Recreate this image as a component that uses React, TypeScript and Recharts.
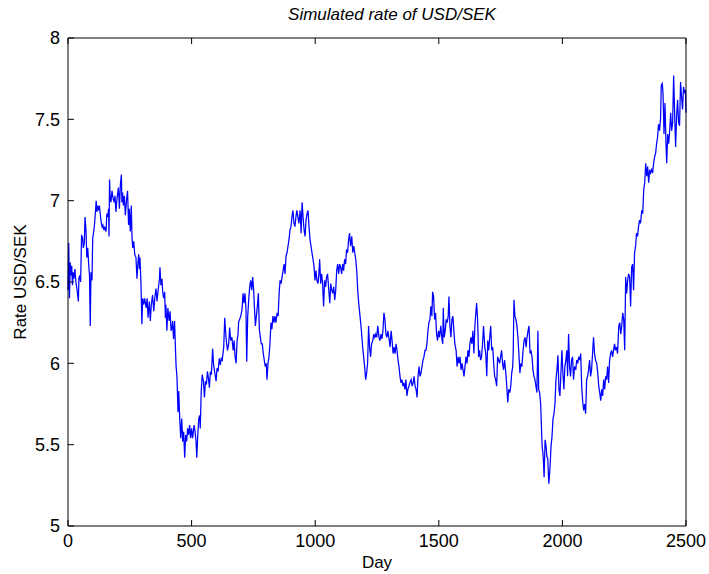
import React from 'react';
import { LineChart, Line, XAxis, YAxis, Label } from 'recharts';

// Sampled trading days (x) and the simulated USD/SEK rate on each day (y)
const days: number[] = [
  0, 3, 6, 9, 12, 15, 18, 21, 24, 28,
  32, 36, 39, 42, 44, 47, 51, 55, 59, 62,
  66, 69, 73, 76, 80, 84, 87, 90, 93, 97,
  100, 104, 107, 111, 114, 117, 120, 124, 127, 131,
  134, 138, 141, 145, 148, 151, 154, 157, 161, 164,
  166, 168, 171, 174, 178, 183, 187, 190, 194, 198,
  204, 208, 212, 216, 218, 221, 224, 228, 232, 237,
  241, 245, 248, 252, 256, 259, 262, 266, 270, 275,
  279, 282, 286, 289, 291, 295, 299, 302, 306, 310,
  316, 320, 324, 329, 333, 337, 342, 347, 351, 356,
  360, 364, 370, 372, 376, 380, 383, 387, 391, 394,
  396, 400, 404, 409, 413, 417, 421, 423, 427, 431,
  437, 441, 445, 448, 452, 456, 460, 464, 468, 472,
  476, 480, 484, 488, 492, 496, 500, 504, 510, 514,
  518, 521, 525, 529, 533, 535, 539, 543, 548, 552,
  556, 560, 564, 568, 572, 576, 580, 585, 589, 593,
  599, 603, 607, 612, 616, 620, 624, 630, 634, 639,
  645, 650, 654, 658, 663, 668, 672, 676, 680, 684,
  688, 690, 694, 699, 704, 708, 712, 716, 720, 723,
  727, 731, 735, 739, 743, 747, 751, 754, 758, 762,
  766, 770, 774, 778, 782, 786, 790, 794, 798, 802,
  805, 809, 813, 817, 821, 825, 829, 833, 837, 841,
  846, 850, 854, 858, 862, 866, 870, 874, 878, 882,
  886, 890, 894, 898, 902, 906, 910, 914, 918, 922,
  926, 930, 934, 939, 943, 947, 951, 955, 959, 963,
  967, 971, 975, 979, 983, 987, 991, 995, 999, 1003,
  1007, 1011, 1015, 1018, 1022, 1026, 1030, 1034, 1038, 1042,
  1046, 1050, 1055, 1059, 1063, 1067, 1071, 1075, 1079, 1083,
  1087, 1091, 1095, 1099, 1103, 1107, 1111, 1115, 1119, 1123,
  1127, 1131, 1135, 1139, 1143, 1148, 1152, 1156, 1160, 1164,
  1168, 1172, 1176, 1180, 1184, 1188, 1192, 1196, 1200, 1204,
  1208, 1212, 1216, 1220, 1224, 1228, 1233, 1237, 1241, 1245,
  1249, 1253, 1258, 1262, 1266, 1270, 1274, 1278, 1282, 1286,
  1290, 1294, 1298, 1303, 1307, 1311, 1315, 1319, 1323, 1327,
  1331, 1335, 1339, 1343, 1347, 1351, 1355, 1359, 1363, 1367,
  1371, 1375, 1379, 1383, 1388, 1392, 1396, 1400, 1404, 1408,
  1412, 1416, 1420, 1424, 1428, 1432, 1436, 1440, 1444, 1448,
  1452, 1456, 1460, 1464, 1468, 1472, 1475, 1479, 1483, 1487,
  1491, 1495, 1499, 1503, 1508, 1512, 1516, 1518, 1522, 1526,
  1530, 1534, 1538, 1541, 1545, 1549, 1553, 1557, 1561, 1565,
  1570, 1574, 1578, 1582, 1586, 1590, 1594, 1598, 1602, 1606,
  1610, 1614, 1618, 1622, 1626, 1630, 1634, 1638, 1642, 1646,
  1650, 1653, 1657, 1661, 1665, 1669, 1673, 1677, 1681, 1686,
  1690, 1694, 1698, 1702, 1706, 1710, 1714, 1718, 1722, 1726,
  1730, 1734, 1738, 1742, 1746, 1750, 1754, 1758, 1762, 1766,
  1770, 1774, 1779, 1783, 1787, 1791, 1795, 1799, 1801, 1804,
  1808, 1812, 1816, 1820, 1824, 1828, 1832, 1836, 1841, 1845,
  1849, 1853, 1857, 1861, 1865, 1869, 1873, 1877, 1881, 1885,
  1889, 1893, 1897, 1901, 1904, 1908, 1912, 1915, 1918, 1921,
  1923, 1926, 1930, 1934, 1937, 1941, 1945, 1950, 1954, 1958,
  1962, 1966, 1970, 1974, 1978, 1982, 1986, 1990, 1994, 1998,
  2002, 2006, 2010, 2014, 2018, 2021, 2025, 2029, 2033, 2037,
  2041, 2045, 2049, 2054, 2058, 2062, 2066, 2070, 2074, 2078,
  2082, 2086, 2090, 2094, 2098, 2102, 2106, 2110, 2114, 2118,
  2122, 2126, 2130, 2134, 2139, 2143, 2147, 2151, 2155, 2159,
  2163, 2167, 2171, 2175, 2179, 2183, 2187, 2191, 2195, 2199,
  2203, 2207, 2211, 2215, 2219, 2223, 2228, 2232, 2236, 2240,
  2244, 2248, 2252, 2256, 2260, 2264, 2268, 2272, 2276, 2280,
  2284, 2288, 2292, 2296, 2300, 2304, 2308, 2312, 2316, 2321,
  2325, 2329, 2333, 2337, 2341, 2345, 2349, 2353, 2357, 2361,
  2365, 2369, 2373, 2377, 2381, 2385, 2389, 2393, 2397, 2400,
  2404, 2407, 2411, 2415, 2419, 2422, 2426, 2430, 2434, 2438,
  2442, 2446, 2450, 2454, 2458, 2462, 2466, 2470, 2474, 2478,
  2482, 2486, 2490, 2494, 2498, 2500,
];

const rates: number[] = [
  6.45, 6.74, 6.40, 6.62, 6.54, 6.60, 6.48, 6.56, 6.52, 6.58,
  6.50, 6.46, 6.42, 6.38, 6.52, 6.54, 6.50, 6.79, 6.77, 6.71,
  6.74, 6.90, 6.81, 6.65, 6.71, 6.60, 6.54, 6.23, 6.56, 6.51,
  6.77, 6.81, 6.85, 6.93, 7.00, 6.93, 6.97, 6.94, 6.97, 6.91,
  6.87, 6.84, 6.85, 6.82, 6.84, 6.82, 6.81, 6.92, 6.90, 6.95,
  6.78, 7.13, 7.01, 6.99, 7.06, 7.01, 6.99, 7.03, 6.93, 7.01,
  7.08, 6.95, 7.10, 7.16, 6.99, 7.05, 6.97, 7.03, 6.91, 7.01,
  7.06, 6.85, 6.95, 6.81, 6.97, 6.77, 6.71, 6.75, 6.67, 6.65,
  6.52, 6.60, 6.67, 6.58, 6.65, 6.50, 6.24, 6.40, 6.36, 6.40,
  6.34, 6.40, 6.28, 6.38, 6.26, 6.36, 6.42, 6.32, 6.40, 6.46,
  6.38, 6.44, 6.52, 6.59, 6.48, 6.52, 6.44, 6.40, 6.44, 6.28,
  6.36, 6.20, 6.34, 6.26, 6.32, 6.20, 6.22, 6.26, 6.15, 6.26,
  5.99, 5.91, 5.70, 5.83, 5.66, 5.54, 5.66, 5.52, 5.58, 5.42,
  5.56, 5.52, 5.60, 5.56, 5.62, 5.54, 5.60, 5.54, 5.62, 5.58,
  5.52, 5.42, 5.56, 5.66, 5.68, 5.60, 5.83, 5.93, 5.89, 5.79,
  5.89, 5.87, 5.95, 5.91, 5.85, 5.95, 5.93, 6.09, 5.99, 5.95,
  5.89, 5.97, 5.95, 6.03, 5.99, 6.03, 6.02, 6.10, 6.28, 6.16,
  6.08, 6.12, 6.22, 6.14, 6.16, 6.08, 6.14, 6.04, 6.00, 6.14,
  6.18, 6.25, 6.27, 6.29, 6.33, 6.43, 6.37, 6.43, 6.33, 6.01,
  6.29, 6.39, 6.47, 6.51, 6.45, 6.53, 6.45, 6.35, 6.23, 6.29,
  6.35, 6.43, 6.21, 6.16, 6.12, 6.12, 6.06, 6.02, 5.98, 6.00,
  5.90, 6.00, 6.04, 6.12, 6.25, 6.21, 6.29, 6.25, 6.29, 6.25,
  6.31, 6.29, 6.43, 6.51, 6.49, 6.53, 6.57, 6.61, 6.55, 6.66,
  6.68, 6.72, 6.76, 6.82, 6.84, 6.90, 6.94, 6.86, 6.84, 6.90,
  6.94, 6.90, 6.86, 6.94, 6.80, 6.99, 6.90, 6.82, 6.78, 6.88,
  6.92, 6.94, 6.84, 6.76, 6.72, 6.68, 6.64, 6.60, 6.51, 6.57,
  6.51, 6.49, 6.55, 6.64, 6.49, 6.55, 6.49, 6.35, 6.51, 6.47,
  6.53, 6.55, 6.45, 6.37, 6.49, 6.45, 6.43, 6.47, 6.39, 6.45,
  6.57, 6.61, 6.55, 6.61, 6.59, 6.55, 6.61, 6.57, 6.64, 6.61,
  6.70, 6.68, 6.76, 6.80, 6.72, 6.78, 6.68, 6.72, 6.68, 6.64,
  6.57, 6.45, 6.37, 6.31, 6.25, 6.18, 6.10, 6.04, 5.98, 5.90,
  5.94, 6.00, 6.23, 6.10, 6.04, 6.12, 6.14, 6.18, 6.16, 6.18,
  6.16, 6.23, 6.16, 6.14, 6.18, 6.15, 6.20, 6.31, 6.27, 6.18,
  6.16, 6.20, 6.16, 6.10, 6.20, 6.14, 6.06, 6.10, 6.06, 6.12,
  6.08, 6.02, 5.98, 5.92, 5.88, 5.90, 5.86, 5.88, 5.84, 5.90,
  5.80, 5.84, 5.86, 5.88, 5.90, 5.86, 5.88, 5.92, 5.86, 5.84,
  5.79, 5.92, 5.98, 5.92, 5.94, 5.98, 6.02, 6.04, 6.08, 6.08,
  6.12, 6.20, 6.25, 6.27, 6.35, 6.29, 6.44, 6.41, 6.27, 6.31,
  6.18, 6.14, 6.20, 6.16, 6.23, 6.16, 6.12, 6.34, 6.16, 6.20,
  6.27, 6.25, 6.29, 6.41, 6.23, 6.16, 6.27, 6.29, 6.20, 6.12,
  6.08, 5.98, 6.04, 6.00, 6.04, 5.96, 6.00, 5.96, 5.92, 5.98,
  6.04, 6.00, 6.08, 6.04, 6.12, 6.16, 6.12, 6.20, 6.06, 6.23,
  6.31, 6.37, 6.27, 6.04, 6.08, 6.02, 6.04, 6.12, 6.23, 6.10,
  6.06, 5.92, 6.14, 6.08, 6.16, 6.23, 6.08, 6.10, 6.00, 5.92,
  5.90, 5.86, 6.04, 6.02, 6.00, 6.04, 6.08, 6.00, 5.96, 6.02,
  5.96, 5.88, 5.76, 5.84, 5.82, 5.86, 5.94, 5.98, 6.06, 6.39,
  6.29, 6.27, 6.23, 6.16, 6.06, 5.94, 6.00, 5.98, 6.08, 6.14,
  6.16, 6.10, 6.16, 6.20, 6.23, 6.06, 6.08, 6.04, 5.96, 5.92,
  5.90, 5.86, 5.82, 6.20, 5.84, 5.82, 5.75, 5.62, 5.49, 5.45,
  5.41, 5.30, 5.53, 5.49, 5.43, 5.41, 5.26, 5.36, 5.49, 5.55,
  5.66, 5.69, 5.75, 5.90, 5.96, 6.05, 5.84, 5.80, 5.94, 6.08,
  5.94, 5.84, 5.98, 6.02, 6.08, 5.92, 6.18, 5.98, 5.92, 6.02,
  6.04, 5.90, 5.98, 5.96, 6.02, 6.00, 6.04, 6.02, 6.06, 5.86,
  5.77, 5.71, 5.75, 5.69, 5.90, 5.92, 5.96, 6.02, 5.92, 5.96,
  6.06, 6.16, 6.06, 6.02, 6.00, 5.94, 5.86, 5.82, 5.77, 5.84,
  5.80, 5.90, 5.84, 5.92, 5.90, 5.98, 5.88, 6.02, 6.06, 6.08,
  6.04, 6.08, 6.12, 6.08, 6.10, 6.06, 6.23, 6.25, 6.18, 6.23,
  6.31, 6.27, 6.08, 6.53, 6.43, 6.51, 6.55, 6.53, 6.35, 6.59,
  6.61, 6.45, 6.68, 6.72, 6.80, 6.78, 6.84, 6.88, 6.86, 6.94,
  6.92, 7.07, 7.11, 7.23, 7.15, 7.21, 7.11, 7.19, 7.17, 7.19,
  7.17, 7.23, 7.27, 7.29, 7.35, 7.39, 7.47, 7.43, 7.50, 7.71,
  7.72, 7.66, 7.41, 7.60, 7.35, 7.23, 7.41, 7.35, 7.43, 7.54,
  7.43, 7.48, 7.77, 7.54, 7.33, 7.52, 7.62, 7.48, 7.46, 7.73,
  7.64, 7.56, 7.70, 7.66, 7.68, 7.54,
];

const dayTicks: number[] = [0, 500, 1000, 1500, 2000, 2500];
const rateTicks: number[] = [5, 5.5, 6, 6.5, 7, 7.5, 8];

const data = days.map((day, i) => ({ day, rate: rates[i] }));

const FONT = '"Liberation Sans", Arial, Helvetica, sans-serif';
const TICK_LEN = 6;
const TICK_FONT = 18;
const LABEL_FONT = 17;

// Tick marks point into the plot box; labels sit outside it
const BottomTick = (props: any) => {
  const { x, y, payload } = props;
  return (
    <g>
      <line x1={x} y1={y} x2={x} y2={y - TICK_LEN} stroke="#000" strokeWidth={1} />
      <text x={x} y={y + 8} dy="0.71em" textAnchor="middle" fontSize={TICK_FONT} fontFamily={FONT} fill="#000">
        {payload.value}
      </text>
    </g>
  );
};

const TopTick = (props: any) => {
  const { x, y } = props;
  return <line x1={x} y1={y} x2={x} y2={y + TICK_LEN} stroke="#000" strokeWidth={1} />;
};

const LeftTick = (props: any) => {
  const { x, y, payload } = props;
  return (
    <g>
      <line x1={x} y1={y} x2={x + TICK_LEN} y2={y} stroke="#000" strokeWidth={1} />
      <text x={x - 8} y={y} dy="0.35em" textAnchor="end" fontSize={TICK_FONT} fontFamily={FONT} fill="#000">
        {payload.value}
      </text>
    </g>
  );
};

const RightTick = (props: any) => {
  const { x, y } = props;
  return <line x1={x} y1={y} x2={x - TICK_LEN} y2={y} stroke="#000" strokeWidth={1} />;
};

export default function App() {
  return (
    <div style={{ position: 'absolute', left: 0, top: 0, width: 709, height: 574, background: '#fff' }}>
      <LineChart
        width={709}
        height={574}
        data={data}
        margin={{ top: 37, right: 22, bottom: 0, left: 0 }}
      >
        <XAxis
          xAxisId="bottom"
          dataKey="day"
          type="number"
          domain={[0, 2500]}
          ticks={dayTicks}
          tickSize={0}
          tickMargin={0}
          height={48}
          tick={<BottomTick />}
          axisLine={{ stroke: '#000', strokeWidth: 1 }}
          tickLine={false}
          interval={0}
        >
          <Label value="Day" position="insideBottom" offset={6} fontSize={LABEL_FONT} fontFamily={FONT} fill="#000" />
        </XAxis>
        <XAxis
          xAxisId="top"
          orientation="top"
          dataKey="day"
          type="number"
          domain={[0, 2500]}
          ticks={dayTicks}
          tickSize={0}
          tickMargin={0}
          height={1}
          tick={<TopTick />}
          axisLine={{ stroke: '#000', strokeWidth: 1 }}
          tickLine={false}
          interval={0}
        />
        <YAxis
          yAxisId="left"
          type="number"
          domain={[5, 8]}
          ticks={rateTicks}
          tickSize={0}
          tickMargin={0}
          width={68}
          tick={<LeftTick />}
          axisLine={{ stroke: '#000', strokeWidth: 1 }}
          tickLine={false}
          interval={0}
        >
          <Label
            value="Rate USD/SEK"
            angle={-90}
            position="insideLeft"
            offset={20}
            style={{ textAnchor: 'middle' }}
            fontSize={LABEL_FONT}
            fontFamily={FONT}
            fill="#000"
          />
        </YAxis>
        <YAxis
          yAxisId="right"
          orientation="right"
          type="number"
          domain={[5, 8]}
          ticks={rateTicks}
          tickSize={0}
          tickMargin={0}
          width={1}
          tick={<RightTick />}
          axisLine={{ stroke: '#000', strokeWidth: 1 }}
          tickLine={false}
          interval={0}
        />
        <Line
          xAxisId="bottom"
          yAxisId="left"
          type="linear"
          dataKey="rate"
          stroke="#0000ff"
          strokeWidth={1.25}
          dot={false}
          isAnimationActive={false}
        />
        <text
          x={392}
          y={14}
          dy="0.35em"
          textAnchor="middle"
          fontSize={LABEL_FONT}
          fontStyle="italic"
          fontFamily={FONT}
          fill="#000"
        >
          Simulated rate of USD/SEK
        </text>
      </LineChart>
    </div>
  );
}
